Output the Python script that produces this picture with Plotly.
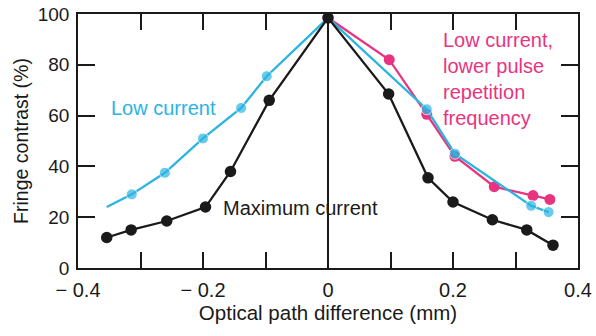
import plotly.graph_objects as go

# Data
max_x = [-0.354, -0.315, -0.258, -0.196, -0.156, -0.094, 0.0, 0.097, 0.160, 0.200, 0.263, 0.318, 0.360]
max_y = [12, 15, 18.5, 24, 38, 66, 98.5, 68.5, 35.5, 26, 19, 15, 9]

low_x = [-0.354, -0.314, -0.261, -0.200, -0.139, -0.098, 0.0, 0.158, 0.203, 0.325, 0.353]
low_y = [24, 29, 37.5, 51, 63, 75.5, 98.5, 62.5, 45, 24.5, 22]

prf_x = [0.0, 0.098, 0.158, 0.203, 0.266, 0.328, 0.355]
prf_y = [98.5, 82, 60.5, 44, 32, 28.5, 27]

x_ticks = [-0.4, -0.3, -0.2, -0.1, 0, 0.1, 0.2, 0.3, 0.4]
x_tick_text = ["\u2212 0.4", "", "\u2212 0.2", "", "0", "", "0.2", "", "0.4"]
y_ticks = [0, 20, 40, 60, 80, 100]

CYAN = "#2ab4e2"
PINK = "#e8347f"
BLACK = "#1a1a1a"
FONT = "Liberation Sans"

fig = go.Figure()

low_sizes = [0] + [11] * (len(low_x) - 1)

fig.add_trace(go.Scatter(x=prf_x, y=prf_y, mode="lines+markers",
                         line=dict(color=PINK, width=2.3),
                         marker=dict(color=PINK, size=11), showlegend=False))
fig.add_trace(go.Scatter(x=low_x, y=low_y, mode="lines+markers",
                         line=dict(color=CYAN, width=2.3),
                         marker=dict(color=CYAN, size=low_sizes), showlegend=False))
fig.add_trace(go.Scatter(x=max_x, y=max_y, mode="lines+markers",
                         line=dict(color=BLACK, width=2.3),
                         marker=dict(color=BLACK, size=11.5), showlegend=False))

fig.add_annotation(x=-0.35, y=63, text="Low current", showarrow=False,
                   xanchor="left", yanchor="middle",
                   font=dict(family=FONT, size=20, color=CYAN))
fig.add_annotation(x=-0.172, y=23.5, text="Maximum current", showarrow=False,
                   xanchor="left", yanchor="middle",
                   font=dict(family=FONT, size=20, color=BLACK))
fig.add_annotation(x=0.181, y=95, text="Low current,<br>lower pulse<br>repetition<br>frequency",
                   showarrow=False, xanchor="left", yanchor="top", align="left",
                   font=dict(family=FONT, size=20, color=PINK))

fig.update_layout(
    width=596, height=336,
    margin=dict(l=78, r=18, t=14, b=68, autoexpand=False),
    paper_bgcolor="white", plot_bgcolor="white",
    font=dict(family=FONT, size=18, color=BLACK),
    xaxis=dict(range=[-0.4, 0.4], tickvals=x_ticks, ticktext=x_tick_text,
               ticks="inside", ticklen=16, tickwidth=1.5, tickcolor=BLACK,
               showline=True, linecolor=BLACK, linewidth=1.5, mirror="ticks",
               showgrid=False, zeroline=True, zerolinecolor=BLACK, zerolinewidth=1.5,
               tickfont=dict(size=20), ticklabelstandoff=3, automargin=False,
               title=dict(text="Optical path difference (mm)", font=dict(size=20.5), standoff=6)),
    yaxis=dict(range=[0, 100], tickvals=y_ticks,
               ticks="inside", ticklen=17, tickwidth=1.5, tickcolor=BLACK,
               showline=True, linecolor=BLACK, linewidth=1.5, mirror="ticks",
               showgrid=False, zeroline=False, automargin=False,
               tickfont=dict(size=19), ticklabelstandoff=3,
               title=dict(text="Fringe contrast (%)", font=dict(size=19.5), standoff=4)),
)

fig.write_html("out.html")
